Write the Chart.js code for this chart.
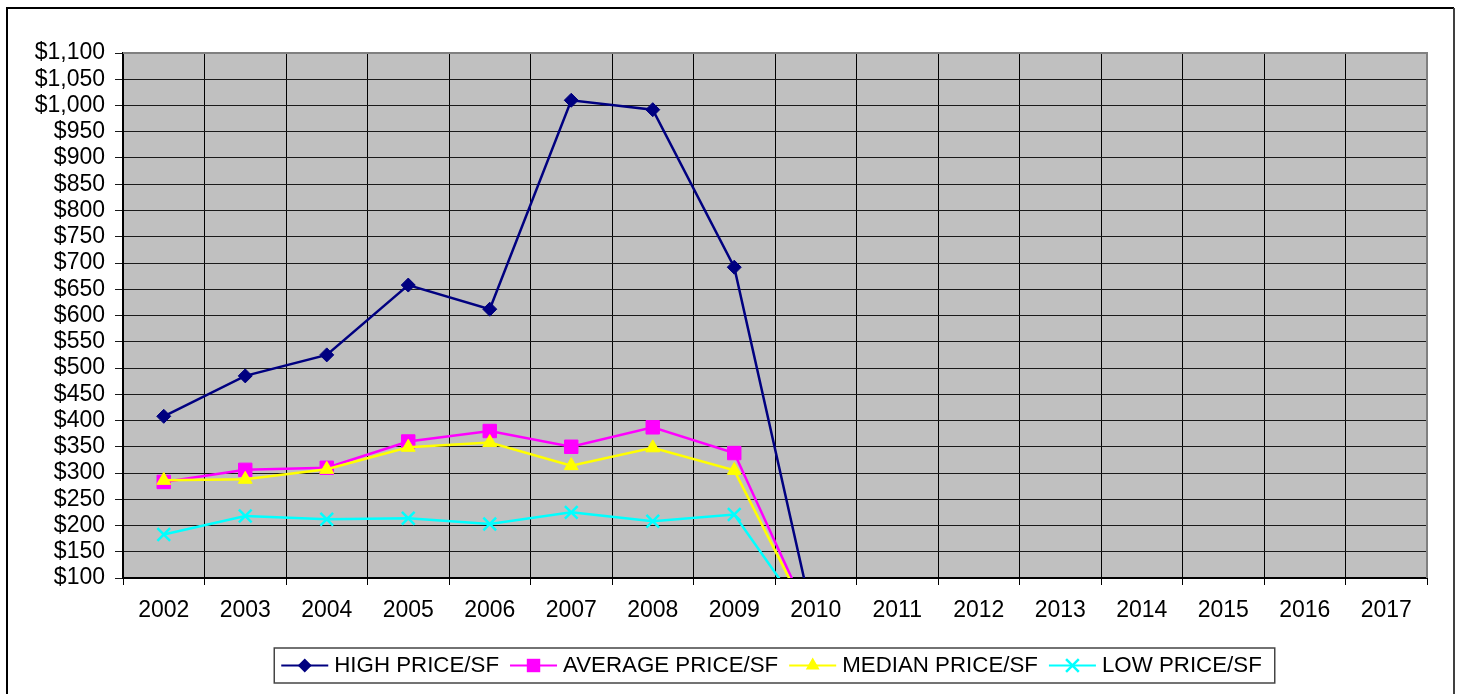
<!DOCTYPE html>
<html><head><meta charset="utf-8">
<script src="https://cdn.jsdelivr.net/npm/chart.js@4.4.1/dist/chart.umd.min.js"></script>
<style>html,body{margin:0;padding:0;background:#fff;overflow:hidden}canvas{display:block}</style>
</head><body>
<canvas id="c" width="1460" height="694"></canvas>
<script>
const years = ['2002','2003','2004','2005','2006','2007','2008','2009','2010','2011','2012','2013','2014','2015','2016','2017'];
const highPrice    = [408, 485, 525, 658, 612, 1010, 992, 692, 0];
const averagePrice = [283, 306, 310, 360, 380, 350, 387, 338, 0];
const medianPrice  = [286, 288, 307, 349, 358, 314, 348, 305, 0];
const lowPrice     = [183, 218, 212, 214, 203, 225, 208, 221, 0];
const seriesLabels = ['HIGH PRICE/SF', 'AVERAGE PRICE/SF', 'MEDIAN PRICE/SF', 'LOW PRICE/SF'];
const yMin = 100, yMax = 1100, yStep = 50;

const FONT = '"Liberation Sans", Arial, sans-serif';
const FSIZE = 23;
const LEGEND_FSIZE = 22.3;

function drawMarker(ctx, style, x, y, r, color) {
  ctx.save();
  ctx.fillStyle = color; ctx.strokeStyle = color; ctx.lineWidth = 2.5;
  ctx.beginPath();
  if (style === 'rectRot') {
    ctx.moveTo(x - r, y); ctx.lineTo(x, y - r); ctx.lineTo(x + r, y); ctx.lineTo(x, y + r); ctx.closePath(); ctx.fill();
  } else if (style === 'rect') {
    const s = Math.SQRT1_2 * r; ctx.rect(x - s, y - s, 2 * s, 2 * s); ctx.fill();
  } else if (style === 'triangle') {
    const h = r * Math.sin(Math.PI / 3);
    ctx.moveTo(x, y - r); ctx.lineTo(x + h, y + r / 2); ctx.lineTo(x - h, y + r / 2); ctx.closePath(); ctx.fill();
  } else if (style === 'crossRot') {
    const o = Math.SQRT1_2 * r;
    ctx.moveTo(x - o, y - o); ctx.lineTo(x + o, y + o); ctx.moveTo(x + o, y - o); ctx.lineTo(x - o, y + o); ctx.stroke();
  }
  ctx.restore();
}

const framePlugin = {
  id: 'frame',
  beforeDraw(chart) {
    const { ctx, chartArea: a } = chart;
    ctx.save();
    ctx.fillStyle = '#fff'; ctx.fillRect(0, 0, chart.width, chart.height);
    ctx.fillStyle = '#C0C0C0'; ctx.fillRect(a.left, a.top, a.right - a.left, a.bottom - a.top);
    ctx.lineWidth = 2;
    ctx.strokeStyle = '#000';
    ctx.beginPath(); ctx.moveTo(7, 710); ctx.lineTo(7, 8); ctx.lineTo(1454, 8); ctx.stroke();
    ctx.strokeStyle = '#404040';
    ctx.beginPath(); ctx.moveTo(1454, 8); ctx.lineTo(1454, 710); ctx.stroke();
    ctx.restore();
  },
  beforeDatasetsDraw(chart) {
    const { ctx, chartArea: a } = chart;
    ctx.save();
    ctx.strokeStyle = '#808080'; ctx.lineWidth = 2;
    ctx.beginPath(); ctx.moveTo(a.left, a.top); ctx.lineTo(a.right, a.top); ctx.lineTo(a.right, a.bottom); ctx.stroke();
    ctx.restore();
  },
  afterDraw(chart) {
    const ctx = chart.ctx;
    const ds = chart.data.datasets;
    ctx.save();
    ctx.font = LEGEND_FSIZE + 'px ' + FONT;
    const lineW = 47, gapT = 6, gapI = 11;
    const widths = ds.map(d => ctx.measureText(d.label).width);
    let total = 0;
    widths.forEach((w, i) => { total += lineW + gapT + w + (i < ds.length - 1 ? gapI : 0); });
    let x = 774.5 - total / 2 - 3;
    const boxL = x - 7, boxR = x + total + 13;
    const yTop = 648, yBot = 683, yc = 665.5;
    ctx.fillStyle = '#fff';
    ctx.fillRect(boxL, yTop, boxR - boxL, yBot - yTop);
    ctx.strokeStyle = '#444'; ctx.lineWidth = 1.5;
    ctx.strokeRect(boxL, yTop, boxR - boxL, yBot - yTop);
    ds.forEach((d, i) => {
      ctx.strokeStyle = d.borderColor; ctx.lineWidth = 2;
      ctx.beginPath(); ctx.moveTo(x, yc); ctx.lineTo(x + lineW, yc); ctx.stroke();
      drawMarker(ctx, d.pointStyle, x + lineW / 2, yc, d.pointRadius, d.pointBackgroundColor);
      ctx.fillStyle = '#000'; ctx.textAlign = 'left'; ctx.textBaseline = 'middle';
      ctx.fillText(d.label, x + lineW + gapT, yc);
      x += lineW + gapT + widths[i] + gapI;
    });
    ctx.restore();
  }
};

function mk(label, data, color, style, radius, order) {
  return {
    label, data, order,
    borderColor: color, backgroundColor: color,
    pointBackgroundColor: color, pointBorderColor: color,
    pointStyle: style, pointRadius: radius, pointHoverRadius: radius,
    pointBorderWidth: style === 'crossRot' ? 2.5 : 1,
    borderWidth: 2.5, tension: 0, fill: false, spanGaps: false
  };
}

new Chart(document.getElementById('c'), {
  type: 'line',
  data: {
    labels: years,
    datasets: [
      mk(seriesLabels[0], highPrice, '#000080', 'rectRot', 7, 4),
      mk(seriesLabels[1], averagePrice, '#FF00FF', 'rect', 9.5, 3),
      mk(seriesLabels[2], medianPrice, '#FFFF00', 'triangle', 8, 2),
      mk(seriesLabels[3], lowPrice, '#00FFFF', 'crossRot', 9, 1)
    ]
  },
  options: {
    responsive: false,
    animation: false,
    layout: { padding: { left: 0, top: 53, right: 33, bottom: 0 } },
    plugins: { legend: { display: false }, tooltip: { enabled: false } },
    scales: {
      x: {
        offset: true,
        grid: { offset: true, color: '#000', lineWidth: 1, tickLength: 7, drawTicks: true },
        border: { color: '#000', width: 2 },
        ticks: { color: '#000', font: { size: FSIZE, family: FONT }, padding: 12, maxRotation: 0, autoSkip: false },
        afterFit(scale) { scale.height = 116; }
      },
      y: {
        min: yMin, max: yMax,
        grid: { color: '#1a1a1a', lineWidth: 1, tickLength: 8 },
        border: { color: '#000', width: 2 },
        ticks: {
          stepSize: yStep, autoSkip: false, color: '#000', font: { size: FSIZE, family: FONT }, padding: 10,
          callback: v => '$' + Number(v).toLocaleString('en-US')
        },
        afterFit(scale) { scale.width = 123; }
      }
    }
  },
  plugins: [framePlugin]
});
</script>
</body></html>
